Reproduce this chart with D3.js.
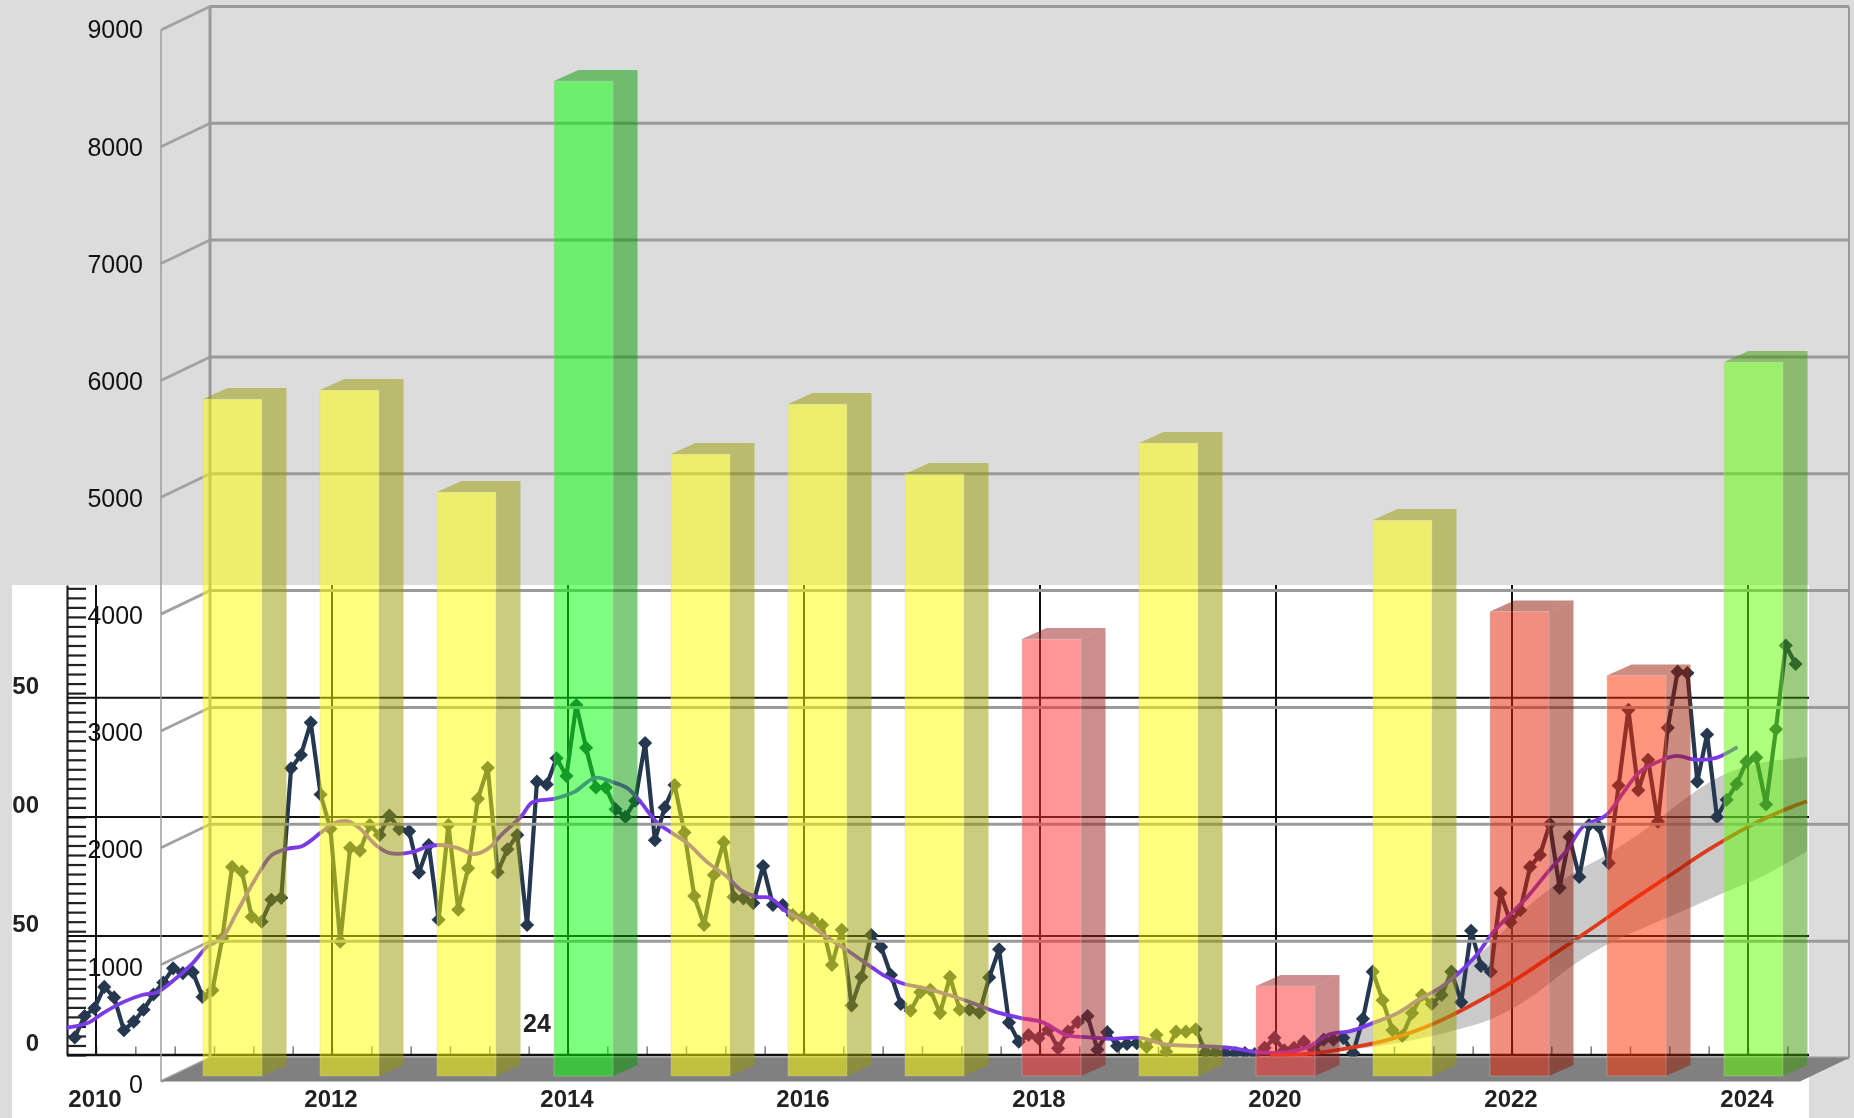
<!DOCTYPE html>
<html>
<head>
<meta charset="utf-8">
<script src="https://cdn.jsdelivr.net/npm/d3@7"></script>
<style>
  html, body { margin: 0; padding: 0; background: #dcdcdc; overflow: hidden; }
  svg { display: block; filter: blur(0.6px); }
  text { font-family: "Liberation Sans", Arial, sans-serif; }
</style>
</head>
<body>
<svg id="chart" width="1854" height="1118"></svg>
<script>
// bars of the 3d chart, one per year
const barCategories = ["2010","2011","2012","2013","2014","2015","2016","2017","2018","2019","2020","2021","2022","2023"];
const barValues = [5791,5868,4996,8512,5321,5748,5150,3738,5415,770,4756,3973,3426,6108];
const barColors = ["#ffff00","#ffff00","#ffff00","#00ff00","#ffff00","#ffff00","#ffff00","#ff2d2d","#ffff00","#ff2d2d","#ffff00","#e61e00","#ff2900","#5fff00"];
const barTicks = [0,1000,2000,3000,4000,5000,6000,7000,8000,9000];

// monthly series of the lower chart
const startYear = 2009.82;
const monthly = [37,82,98,143,121,52,70,95,127,152,182,172,174,122,136,245,395,385,290,280,326,330,602,630,698,547,475,238,435,429,483,462,503,474,470,383,441,284,483,305,392,538,603,384,432,462,273,574,568,623,586,735,645,562,562,516,500,534,655,451,520,567,467,334,273,378,447,332,329,319,397,315,315,294,288,286,273,189,263,104,164,252,227,168,107,93,132,137,88,164,95,95,89,163,222,68,28,42,35,53,14,49,69,82,11,48,19,23,25,17,42,7,49,49,54,6,6,4,4,4,2,15,36,10,15,28,10,32,32,36,4,76,175,115,52,40,88,126,107,126,175,111,261,187,175,340,279,304,395,420,485,351,458,374,483,479,403,566,725,556,620,490,687,805,802,574,673,500,536,569,616,625,526,684,860,821];

// purple trend
const trendYears = [2009.75,2009.93,2010.06,2010.23,2010.39,2010.52,2010.63,2010.82,2010.94,2011.07,2011.19,2011.36,2011.49,2011.62,2011.75,2011.90,2012.02,2012.13,2012.23,2012.38,2012.49,2012.68,2012.80,2012.91,2013.06,2013.20,2013.32,2013.45,2013.60,2013.70,2013.88,2014.05,2014.23,2014.38,2014.50,2014.60,2014.76,2014.87,2015.01,2015.18,2015.35,2015.46,2015.60,2015.71,2015.86,2016.03,2016.19,2016.36,2016.58,2016.70,2016.85,2017.01,2017.23,2017.43,2017.63,2017.83,2018.02,2018.22,2018.36,2018.60,2018.85,2019.05,2019.33,2019.61,2019.84,2020.10,2020.27,2020.46,2020.63,2020.82,2021.03,2021.20,2021.39,2021.53,2021.70,2021.84,2021.98,2022.13,2022.32,2022.47,2022.60,2022.80,2022.94,2023.08,2023.23,2023.39,2023.56,2023.73,2023.91];
const trendValues = [57,67,88,111,126,132,151,193,227,246,298,374,420,433,439,466,487,491,477,439,424,426,437,441,435,422,433,466,500,531,538,552,582,573,561,536,487,468,445,405,374,347,332,330,300,277,248,221,183,164,149,141,126,109,90,78,69,42,38,34,36,23,19,15,6,6,17,44,50,67,88,115,141,168,210,258,294,332,389,431,479,504,550,594,615,628,620,624,647];

// red trend and the gray band around it
const redYears = [2019.95,2020.33,2020.65,2020.98,2021.32,2021.65,2021.99,2022.32,2022.66,2022.99,2023.33,2023.66,2024.00,2024.33,2024.50];
const redValues = [0,4,16,34,64,104,152,206,263,320,376,430,479,517,533];
const bandYears = [2019.95,2020.82,2021.32,2021.53,2021.81,2022.15,2022.52,2022.80,2023.17,2023.51,2023.79,2024.10,2024.50];
const bandUpper = [0,67,132,172,231,315,382,420,481,546,588,613,626];
const bandLower = [0,17,40,53,74,120,189,231,273,309,340,372,428];

// axis labels of the lower chart, as far as they show in the crop
const gridValues = [0,250,500,750];
const gridLabels = ["0","50","00","50"];
const yearTicks = [2010,2012,2014,2016,2018,2020,2022,2024];
const looseLabel = "24";

const svg = d3.select("#chart");

const x = d3.scaleLinear().domain([2010, 2024]).range([96, 1748]);
const y = d3.scaleLinear().domain([0, 987]).range([1055, 585]);
const wallY = d3.scaleLinear().domain([0, 9000]).range([1058, 6.4]);
const barX = d3.scaleBand().domain(barCategories).range([203, 1783]).paddingInner(58 / 117);
const barY = d3.scaleLinear().domain([0, 9000]).range([1076, 24]);

const depth = { dx: 49, dy: 23.5 };
const barDepth = { dx: 24.5, dy: 11 };
const rightEdge = 1809;

// backgrounds
svg.append("rect").attr("width", 1854).attr("height", 1118).attr("fill", "#dcdcdc");
svg.append("rect").attr("x", 12).attr("y", 585).attr("width", rightEdge - 12).attr("height", 533).attr("fill", "#fff");

// lower chart axes
const lower = svg.append("g");

const minorY = d3.range(0, 987, 20);
lower.append("g")
  .attr("transform", "translate(67,0)")
  .call(d3.axisRight(y).tickValues(minorY).tickSize(19).tickSizeOuter(0).tickFormat(""))
  .call(g => g.selectAll("line, path").attr("stroke", "#222").attr("stroke-width", 2.2));

const minorX = d3.range(2010, x.invert(rightEdge), 1 / 3);
lower.append("g")
  .attr("transform", "translate(0,1055)")
  .call(d3.axisTop(x).tickValues(minorX).tickSize(8.5).tickSizeOuter(0).tickFormat(""))
  .call(g => g.select(".domain").remove())
  .call(g => g.selectAll("line").attr("stroke", "#777").attr("stroke-width", 1.5));

lower.selectAll("line.hgrid").data(gridValues).enter().append("line")
  .attr("class", "hgrid")
  .attr("x1", 67).attr("x2", rightEdge)
  .attr("y1", d => y(d)).attr("y2", d => y(d))
  .attr("stroke", "#111").attr("stroke-width", d => d === 0 ? 2.4 : 2);

lower.selectAll("line.vgrid").data(yearTicks).enter().append("line")
  .attr("class", "vgrid")
  .attr("x1", d => x(d)).attr("x2", d => x(d))
  .attr("y1", 585).attr("y2", 1055)
  .attr("stroke", "#111").attr("stroke-width", 2);

lower.selectAll("text.gridlabel").data(gridValues).enter().append("text")
  .attr("class", "gridlabel")
  .attr("x", 39).attr("y", d => y(d) - 12)
  .attr("dy", "0.35em")
  .attr("text-anchor", "end")
  .attr("font-size", 24).attr("font-weight", "bold").attr("fill", "#222")
  .text((d, i) => gridLabels[i]);

lower.selectAll("text.yearlabel").data(yearTicks).enter().append("text")
  .attr("class", "yearlabel")
  .attr("x", d => x(d) - 1).attr("y", 1099)
  .attr("dy", "0.35em")
  .attr("text-anchor", "middle")
  .attr("font-size", 24).attr("font-weight", "bold").attr("fill", "#222")
  .text(d => d);

lower.append("text")
  .attr("x", 523).attr("y", 1023).attr("dy", "0.35em")
  .attr("font-size", 25).attr("font-weight", "bold").attr("fill", "#222")
  .text(looseLabel);

// band, monthly line and trends
const band = d3.area()
  .x((d, i) => x(bandYears[i]))
  .y0((d, i) => y(bandLower[i]))
  .y1((d, i) => y(bandUpper[i]))
  .curve(d3.curveCatmullRom);
lower.append("path").datum(bandYears).attr("d", band).attr("fill", "#808080").attr("fill-opacity", 0.42);

const monthX = (d, i) => x(startYear + i / 12);
const monthLine = d3.line().x(monthX).y(d => y(d));
lower.append("path").datum(monthly).attr("d", monthLine)
  .attr("fill", "none").attr("stroke", "#263850").attr("stroke-width", 4.2).attr("stroke-linejoin", "round");

const marker = d3.symbol().type(d3.symbolSquare).size(100);
lower.selectAll("path.mark").data(monthly).enter().append("path")
  .attr("class", "mark")
  .attr("d", marker)
  .attr("transform", (d, i) => `translate(${monthX(d, i)},${y(d)}) rotate(45)`)
  .attr("fill", "#263850");

const trendLine = d3.line()
  .x((d, i) => x(trendYears[i]))
  .y(d => y(d))
  .curve(d3.curveCatmullRom);
lower.append("path").datum(trendValues).attr("d", trendLine)
  .attr("fill", "none").attr("stroke", "#7a3be6").attr("stroke-width", 3.8);

const redLine = d3.line()
  .x((d, i) => x(redYears[i]))
  .y(d => y(d))
  .curve(d3.curveCatmullRom);
lower.append("path").datum(redValues).attr("d", redLine)
  .attr("fill", "none").attr("stroke", "#dc3a1c").attr("stroke-width", 3.8);

// 3d chart: walls and floor
const wall = svg.append("g");
const wallX0 = 210;
const wallX1 = 1849;

wall.selectAll("line.back").data(barTicks).enter().append("line")
  .attr("class", "back")
  .attr("x1", wallX0).attr("x2", wallX1)
  .attr("y1", d => wallY(d)).attr("y2", d => wallY(d))
  .attr("stroke", "#9a9a9a").attr("stroke-width", 3);

wall.selectAll("line.side").data(barTicks).enter().append("line")
  .attr("class", "side")
  .attr("x1", wallX0 - depth.dx).attr("x2", wallX0)
  .attr("y1", d => wallY(d) + depth.dy).attr("y2", d => wallY(d))
  .attr("stroke", "#a2a2a2").attr("stroke-width", 2.8);

wall.append("line")
  .attr("x1", wallX0 - depth.dx).attr("x2", wallX0 - depth.dx)
  .attr("y1", wallY(9000) + depth.dy).attr("y2", wallY(0) + depth.dy)
  .attr("stroke", "#999").attr("stroke-width", 1.4);

wall.append("line")
  .attr("x1", wallX0).attr("x2", wallX0)
  .attr("y1", wallY(9000)).attr("y2", wallY(0))
  .attr("stroke", "#999").attr("stroke-width", 3);

wall.append("line")
  .attr("x1", wallX1).attr("x2", wallX1)
  .attr("y1", wallY(9000)).attr("y2", wallY(0))
  .attr("stroke", "#999").attr("stroke-width", 2);

const floorPts = [
  [wallX0, wallY(0)],
  [wallX1, wallY(0)],
  [wallX1 - depth.dx, wallY(0) + depth.dy],
  [wallX0 - depth.dx, wallY(0) + depth.dy]
];
wall.append("polygon")
  .attr("points", floorPts.map(p => p.join(",")).join(" "))
  .attr("fill", "#808080");

// bars
const bars = svg.selectAll("g.bar").data(barValues).enter().append("g").attr("class", "bar");

bars.each(function(d, i) {
  const g = d3.select(this);
  const cat = barCategories[i];
  const base = d3.color(barColors[i]);
  const dark = d3.rgb(base.r * 0.6, base.g * 0.6, base.b * 0.6);
  const left = barX(cat);
  const right = left + barX.bandwidth();
  const top = barY(d);
  const bottom = barY(0);

  const sidePts = [[right, top], [right + barDepth.dx, top - barDepth.dy], [right + barDepth.dx, bottom - barDepth.dy], [right, bottom]];
  const topPts = [[left, top], [left + barDepth.dx, top - barDepth.dy], [right + barDepth.dx, top - barDepth.dy], [right, top]];

  g.append("polygon").attr("points", sidePts.map(p => p.join(",")).join(" "))
    .attr("fill", dark).attr("fill-opacity", 0.5);
  g.append("polygon").attr("points", topPts.map(p => p.join(",")).join(" "))
    .attr("fill", dark).attr("fill-opacity", 0.5);
  g.append("rect")
    .attr("x", left).attr("y", top)
    .attr("width", barX.bandwidth()).attr("height", bottom - top)
    .attr("fill", base).attr("fill-opacity", 0.5)
    .attr("stroke", "#c8c8c8").attr("stroke-opacity", 0.35).attr("stroke-width", 1);
});

// left labels of the 3d chart go on top of everything
svg.selectAll("text.walllabel").data(barTicks).enter().append("text")
  .attr("class", "walllabel")
  .attr("x", 143).attr("y", d => wallY(d) + depth.dy + (d === 0 ? 3 : d === 1000 ? 3 : d === 9000 ? -1 : 1))
  .attr("dy", "0.35em")
  .attr("text-anchor", "end")
  .attr("font-size", 25).attr("fill", "#111")
  .text(d => d);
</script>
</body>
</html>
